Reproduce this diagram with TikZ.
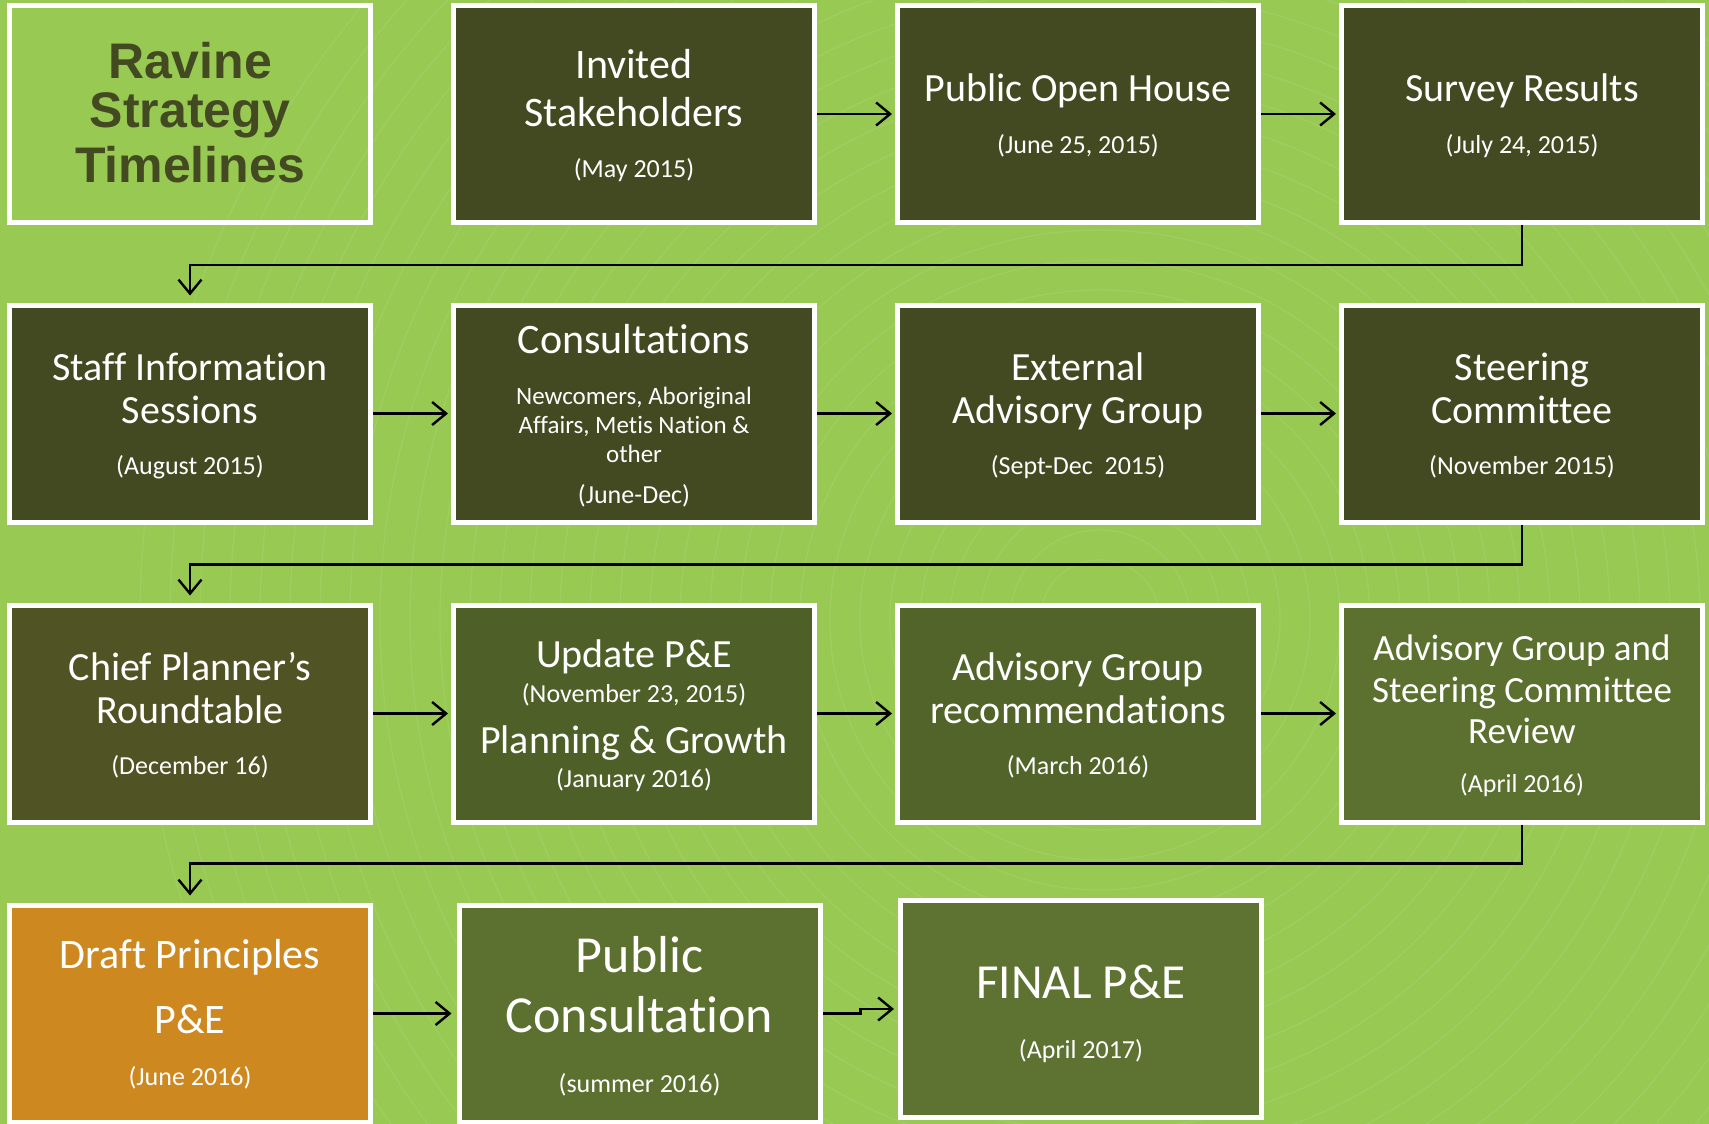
\documentclass[tikz,border=0pt]{standalone}
\usepackage{fontspec}
\setmainfont{Carlito}[Ligatures={TeX,NoCommon}]
\newfontfamily\headfont{Liberation Sans}
\usetikzlibrary{arrows.meta}
\definecolor{bggreen}{RGB}{151,201,83}
\definecolor{oliveA}{RGB}{67,74,33}
\definecolor{oliveB}{RGB}{80,83,35}
\definecolor{oliveC}{RGB}{78,96,40}
\definecolor{oliveD}{RGB}{82,100,42}
\definecolor{oliveE}{RGB}{92,112,48}
\definecolor{oliveF}{RGB}{94,114,50}
\definecolor{draftorange}{RGB}{205,136,32}
\begin{document}
\begin{tikzpicture}[x=1pt,y=-1pt,
  card/.style={draw=white, line width=5pt, minimum width=361pt, minimum height=217pt, inner sep=0pt},
  txt/.style={anchor=base, text=white, inner sep=0pt},
  head/.style={txt, font=\fontsize{40}{48}\selectfont},
  headL/.style={txt, font=\fontsize{42}{50}\selectfont},
  headXL/.style={txt, font=\fontsize{52}{60}\selectfont},
  headS/.style={txt, font=\fontsize{37}{44}\selectfont},
  note/.style={txt, font=\fontsize{26}{31}\selectfont},
  noteS/.style={txt, font=\fontsize{25}{30}\selectfont},
  ttl/.style={anchor=base, inner sep=0pt, text=oliveA, font=\headfont\bfseries\fontsize{50}{52}\selectfont},
  flow/.style={draw=black, line width=2.4pt, -{Straight Barb[length=14pt,width=23pt]}},
]
% page and background texture
\fill[bggreen] (0,0) rectangle (1709,1124);
\useasboundingbox (0,0) rectangle (1709,1124);
\begin{scope}
  \clip (0,0) rectangle (1709,1124);
  \foreach \r in {60,90,...,960}
    \draw[white, opacity=0.09, line width=1.3pt] (1100,620) circle[radius=\r];
\end{scope}

% title
\node[card] (title) at (190,114) {};
\node[ttl] (t1) at (190,78) {Ravine};
\node[ttl] (t2) at (190,128) {Strategy};
\node[ttl] (t3) at (190,182) {Timelines};

% row 1
\node[card, fill=oliveA] (inv) at (634,114) {};
\node[headL] (inv1) at (634,79) {Invited};
\node[headL] (inv2) at (634,126) {Stakeholders};
\node[note] (inv3) at (634,177) {(May 2015)};

\node[card, fill=oliveA] (poh) at (1078,114) {};
\node[head] (poh1) at (1078,102) {Public Open House};
\node[note] (poh2) at (1078,153) {(June 25, 2015)};

\node[card, fill=oliveA] (svy) at (1522,114) {};
\node[head] (svy1) at (1522,102) {Survey Results};
\node[note] (svy2) at (1522,153) {(July 24, 2015)};

% row 2
\node[card, fill=oliveA] (staff) at (190,413.5) {};
\node[head] (staff1) at (190,380) {Staff Information};
\node[head] (staff2) at (190,423) {Sessions};
\node[note] (staff3) at (190,474) {(August 2015)};

\node[card, fill=oliveA] (cons) at (634,413.5) {};
\node[headL] (cons1) at (634,353) {Consultations};
\node[noteS] (cons2) at (634,404) {Newcomers, Aboriginal};
\node[noteS] (cons3) at (634,433) {Affairs, Metis Nation \&};
\node[noteS] (cons4) at (634,462) {other};
\node[note] (cons5) at (634,503) {(June-Dec)};

\node[card, fill=oliveA] (ext) at (1078,413.5) {};
\node[head] (ext1) at (1078,380) {External};
\node[head] (ext2) at (1078,423) {Advisory Group};
\node[note] (ext3) at (1078,474) {(Sept-Dec\ \ 2015)};

\node[card, fill=oliveA] (steer) at (1522,413.5) {};
\node[head] (steer1) at (1522,380) {Steering};
\node[head] (steer2) at (1522,423) {Committee};
\node[note] (steer3) at (1522,474) {(November 2015)};

% row 3
\node[card, fill=oliveB] (chief) at (190,713.5) {};
\node[head] (chief1) at (190,680) {Chief Planner’s};
\node[head] (chief2) at (190,723) {Roundtable};
\node[note] (chief3) at (190,774) {(December 16)};

\node[card, fill=oliveC] (upd) at (634,713.5) {};
\node[head] (upd1) at (634,667) {Update P\&E};
\node[note] (upd2) at (634,702) {(November 23, 2015)};
\node[head] (upd3) at (634,753) {Planning \& Growth};
\node[note] (upd4) at (634,787) {(January 2016)};

\node[card, fill=oliveD] (rec) at (1078,713.5) {};
\node[head] (rec1) at (1078,680) {Advisory Group};
\node[head] (rec2) at (1078,723) {recommendations};
\node[note] (rec3) at (1078,774) {(March 2016)};

\node[card, fill=oliveE] (rev) at (1522,713.5) {};
\node[headS] (rev1) at (1522,660) {Advisory Group and};
\node[headS] (rev2) at (1522,702) {Steering Committee};
\node[headS] (rev3) at (1522,743) {Review};
\node[note] (rev4) at (1522,792) {(April 2016)};

% row 4
\node[card, fill=draftorange] (draft) at (190,1013.5) {};
\node[headL] (draft1) at (190,968) {Draft Principles};
\node[headL] (draft2) at (190,1033) {P\&E};
\node[note] (draft3) at (190,1085) {(June 2016)};

\node[card, fill=oliveE] (pub) at (639.5,1013.5) {};
\node[headXL] (pub1) at (639.5,972) {Public};
\node[headXL] (pub2) at (639.5,1032) {Consultation};
\node[note] (pub3) at (639.5,1092) {(summer 2016)};

\node[card, fill=oliveF] (fin) at (1081,1009) {};
\node[txt, font=\fontsize{49}{58}\selectfont] (fin1) at (1081,998) {FINAL P\&E};
\node[note] (fin2) at (1081,1058) {(April 2017)};

% connectors within rows
\draw[flow, shorten >=3pt] (inv.east) -- (poh.west);
\draw[flow, shorten >=3pt] (poh.east) -- (svy.west);
\draw[flow, shorten >=3pt] (staff.east) -- (cons.west);
\draw[flow, shorten >=3pt] (cons.east) -- (ext.west);
\draw[flow, shorten >=3pt] (ext.east) -- (steer.west);
\draw[flow, shorten >=3pt] (chief.east) -- (upd.west);
\draw[flow, shorten >=3pt] (upd.east) -- (rec.west);
\draw[flow, shorten >=3pt] (rec.east) -- (rev.west);
\draw[flow, shorten >=5pt] (draft.east) -- (pub.west);
\draw[flow, shorten >=4pt] (pub.east) -- ++(38,0) |- (fin.west);

% connectors between rows
\draw[flow, shorten >=7pt] (svy.south) -- ++(0,40) -| (staff.north);
\draw[flow, shorten >=7pt] (steer.south) -- ++(0,40) -| (chief.north);
\draw[flow, shorten >=7pt] (rev.south) -- ++(0,39) -| (draft.north);
\end{tikzpicture}
\end{document}
